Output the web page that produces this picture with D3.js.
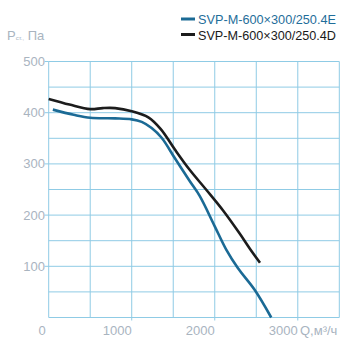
<!DOCTYPE html>
<html><head><meta charset="utf-8">
<script src="https://cdn.jsdelivr.net/npm/d3@7"></script>
<style>body{margin:0;background:#fff;}svg{display:block;font-family:"Liberation Sans",Arial,sans-serif;}</style>
</head><body>
<script>
const seriesNames = ["SVP-M-600×300/250.4E", "SVP-M-600×300/250.4D"];
const seriesColors = ["#1b6a95", "#1c1c1c"];
const qE = [50, 300, 500, 800, 1000, 1120, 1240, 1360, 1520, 1700, 1820, 2000, 2140, 2280, 2480, 2680];
const pE = [406, 396, 390, 389, 387, 382, 370, 351, 311, 266, 237, 178, 132, 96, 54, 0];
const qD = [0, 250, 500, 650, 800, 1000, 1200, 1350, 1520, 1700, 1900, 2100, 2300, 2425, 2545];
const pD = [427, 416, 407, 409, 409, 403, 391, 368, 328, 288, 249, 209, 164, 134, 107];
const xTicks = [0, 1000, 2000, 3000];
const yTicks = [100, 200, 300, 400, 500];

const W = 346, H = 349;
const svg = d3.select("body").append("svg").attr("width", W).attr("height", H);
const x = d3.scaleLinear().domain([0, 3500]).range([48.7, 339.3]);
const y = d3.scaleLinear().domain([0, 500]).range([317.5, 61.5]);
const grid = "#8fcbe5", lab = "#a9b4bf";

const g = svg.append("g");
g.selectAll(".vx").data(d3.range(0, 3501, 500)).join("line")
  .attr("x1", d => x(d)).attr("x2", d => x(d)).attr("y1", y(500)).attr("y2", y(0))
  .attr("stroke", grid).attr("stroke-width", 1);
g.selectAll(".hy").data(d3.range(0, 501, 50)).join("line")
  .attr("y1", d => y(d)).attr("y2", d => y(d)).attr("x1", x(0)).attr("x2", x(3500))
  .attr("stroke", grid).attr("stroke-width", 1);
g.selectAll(".ty").data(yTicks).join("line")
  .attr("y1", d => y(d)).attr("y2", d => y(d)).attr("x1", x(0) - 4).attr("x2", x(0))
  .attr("stroke", grid);
g.selectAll(".tx").data(xTicks.filter(d => d > 0)).join("line")
  .attr("x1", d => x(d)).attr("x2", d => x(d)).attr("y1", y(0)).attr("y2", y(0) + 3)
  .attr("stroke", grid);

svg.selectAll(".yl").data(yTicks).join("text")
  .attr("x", 45).attr("y", d => y(d) + 4.5).attr("text-anchor", "end")
  .attr("font-size", 13).attr("fill", lab).text(d => d);
svg.selectAll(".xl").data(xTicks).join("text")
  .attr("x", d => d === 0 ? x(d) - 3 : x(d)).attr("y", 335).attr("text-anchor", "end")
  .attr("font-size", 13).attr("fill", lab).text(d => d);
svg.append("text").attr("x", 300).attr("y", 335).attr("font-size", 13).attr("fill", lab).text("Q,м³/ч");

const t = svg.append("text").attr("x", 7).attr("y", 39.5).attr("font-size", 13).attr("fill", lab);
t.append("tspan").text("P");
t.append("tspan").attr("font-size", 6).text("ст.,");
t.append("tspan").text(" Па");

const line = d3.line().x(d => x(d[0])).y(d => y(d[1])).curve(d3.curveCatmullRom.alpha(0.5));
const data = [d3.zip(qE, pE), d3.zip(qD, pD)];
svg.selectAll(".curve").data(data).join("path")
  .attr("d", line).attr("fill", "none")
  .attr("stroke", (d, i) => seriesColors[i]).attr("stroke-width", 2.6)
  .attr("stroke-linecap", "butt").attr("stroke-linejoin", "round");

const lg = svg.selectAll(".lg").data(seriesNames).join("g")
  .attr("transform", (d, i) => `translate(0,${19 + i * 15.5})`);
lg.append("line").attr("x1", 181).attr("x2", 195).attr("y1", 0).attr("y2", 0)
  .attr("stroke", (d, i) => seriesColors[i]).attr("stroke-width", 3);
lg.append("text").attr("x", 198).attr("y", 5).attr("font-size", 13.5)
  .attr("fill", (d, i) => i === 0 ? "#1f6e9a" : "#1a1a1a")
  .attr("textLength", 138).attr("lengthAdjust", "spacingAndGlyphs").text(d => d);
</script>
</body></html>
